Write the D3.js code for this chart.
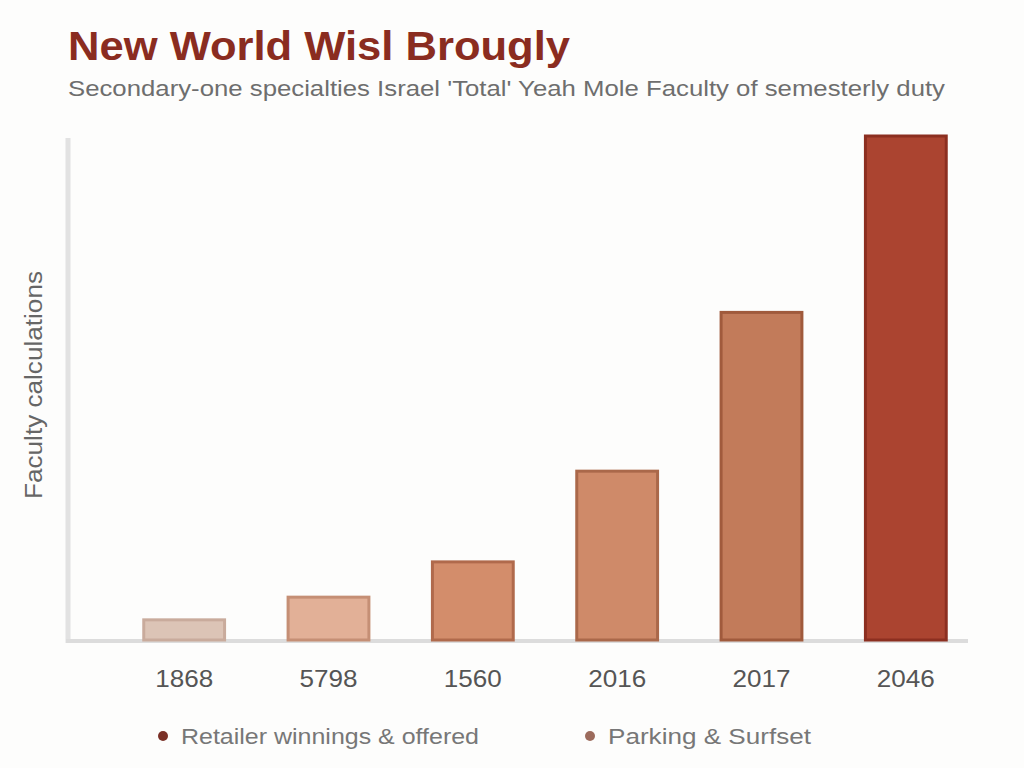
<!DOCTYPE html>
<html>
<head>
<meta charset="utf-8">
<script src="https://cdn.jsdelivr.net/npm/d3@7"></script>
<style>
  body { margin: 0; background: #fdfdfc; }
  svg { display: block; font-family: "Liberation Sans", Arial, sans-serif; }
</style>
</head>
<body>
<svg id="chart"></svg>
<script>
// DATA

const years = ["1868", "5798", "1560", "2016", "2017", "2046"];
const values = [4, 8.5, 15.5, 33.5, 65, 100];
const barFills = ["#dcc4b6", "#e2b097", "#d38d6b", "#cf8a69", "#c27b5a", "#ab4430"];
const barStrokes = ["#c9ab9c", "#c58f75", "#b06a4c", "#aa684a", "#a05a3c", "#8c2f20"];
const legendLabels = ["Retailer winnings & offered", "Parking & Surfset"];
const legendColors = ["#7a3026", "#9c6b5c"];

const width = 1024;
const height = 768;

const svg = d3.select("#chart")
  .attr("width", width)
  .attr("height", height);

// TITLES

svg.append("text")
  .attr("x", 68)
  .attr("y", 60)
  .attr("fill", "#8a2c20")
  .attr("font-size", "40px")
  .attr("font-weight", "bold")
  .attr("textLength", 502)
  .attr("lengthAdjust", "spacingAndGlyphs")
  .text("New World Wisl Brougly");

svg.append("text")
  .attr("x", 68)
  .attr("y", 96)
  .attr("fill", "#6e6e6e")
  .attr("font-size", "22px")
  .attr("textLength", 877)
  .attr("lengthAdjust", "spacingAndGlyphs")
  .text("Secondary-one specialties Israel 'Total' Yeah Mole Faculty of semesterly duty");

// SCALES

const x = d3.scaleBand()
  .domain(years)
  .range([112, 978])
  .paddingInner(0.44)
  .paddingOuter(0.22);

const y = d3.scaleLinear()
  .domain([0, 100])
  .range([640, 136]);

// AXIS LINES

svg.append("line")
  .attr("x1", 68).attr("x2", 68)
  .attr("y1", 138).attr("y2", 643)
  .attr("stroke", "#e2e2e2")
  .attr("stroke-width", 5);

svg.append("line")
  .attr("x1", 66).attr("x2", 968)
  .attr("y1", 641).attr("y2", 641)
  .attr("stroke", "#dcdcdc")
  .attr("stroke-width", 4);

// BARS

svg.append("g")
  .selectAll("rect")
  .data(years)
  .enter()
  .append("rect")
  .attr("x", d => x(d))
  .attr("y", (d, i) => y(values[i]))
  .attr("width", x.bandwidth())
  .attr("height", (d, i) => y(0) - y(values[i]))
  .attr("fill", (d, i) => barFills[i])
  .attr("stroke", (d, i) => barStrokes[i])
  .attr("stroke-width", 3);

// X LABELS

const xAxis = svg.append("g")
  .attr("transform", "translate(0,641)")
  .call(d3.axisBottom(x).tickSize(0).tickPadding(29));

xAxis.select(".domain").remove();
xAxis.selectAll("text")
  .attr("fill", "#555")
  .attr("font-size", "24px")
  .attr("textLength", 58)
  .attr("lengthAdjust", "spacingAndGlyphs");

// Y LABEL

svg.append("text")
  .attr("transform", "translate(42,385) rotate(-90)")
  .attr("text-anchor", "middle")
  .attr("fill", "#666")
  .attr("font-size", "23px")
  .attr("textLength", 228)
  .attr("lengthAdjust", "spacingAndGlyphs")
  .text("Faculty calculations");

// LEGEND

const legendX = [163, 590];
const legendWidths = [298, 203];

legendLabels.forEach((label, i) => {

  svg.append("circle")
    .attr("cx", legendX[i])
    .attr("cy", 736)
    .attr("r", 5)
    .attr("fill", legendColors[i]);

  svg.append("text")
    .attr("x", legendX[i] + 18)
    .attr("y", 744)
    .attr("fill", "#777")
    .attr("font-size", "22px")
    .attr("textLength", legendWidths[i])
    .attr("lengthAdjust", "spacingAndGlyphs")
    .text(label);

});
</script>
</body>
</html>
